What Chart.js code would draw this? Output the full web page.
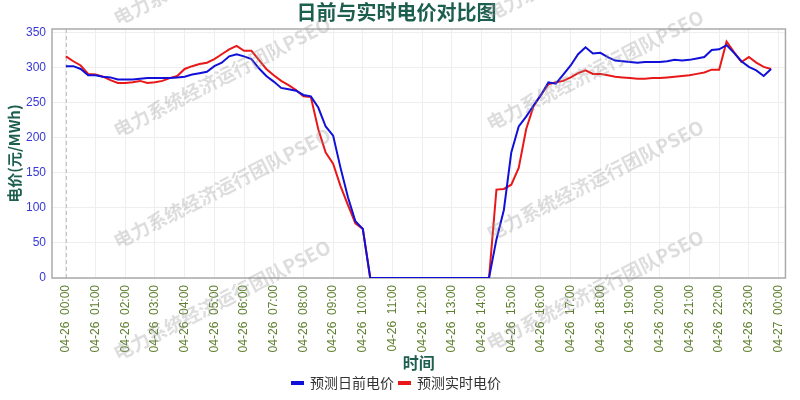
<!DOCTYPE html>
<html>
<head>
<meta charset="utf-8">
<script src="https://cdn.jsdelivr.net/npm/chart.js@4/dist/chart.umd.min.js"></script>
<style>
  html, body { margin: 0; padding: 0; background: #fff; }
  #wrap { width: 800px; height: 400px; }
</style>
</head>
<body>
<div id="wrap"><canvas id="myChart" width="800" height="400"></canvas></div>
<script>
// 15-minute points from 04-26 00:00 to 23:45
const times = [];
for (let k = 0; k < 96; k++) times.push(k / 4);

const dayAhead = [
  302, 302, 298, 289, 289, 287, 286, 283, 283, 283,
  284, 285, 285, 285, 285, 286, 287, 290, 292, 294,
  302, 307, 316, 319, 316, 312, 299, 288, 280, 271,
  269, 267, 261, 259, 243, 216, 203, 157, 115, 81, 70,
  0, 0, 0, 0, 0, 0, 0, 0, 0, 0, 0, 0, 0, 0, 0, 0, 0,
  55, 97, 179, 216, 230, 246, 261, 279, 277, 290,
  303, 319, 329, 320, 321, 315, 310, 309, 308, 307,
  308, 308, 308, 309, 311, 310, 311, 313, 315, 325,
  326, 332, 321, 309, 301, 296, 288, 298
];

const realTime = [
  316, 309, 303, 291, 290, 287, 282, 278, 278, 279,
  281, 278, 279, 281, 285, 288, 298, 302, 305, 307,
  312, 319, 326, 331, 324, 324, 311, 298, 289, 281,
  275, 268, 259, 258, 212, 179, 163, 131, 104, 78, 70,
  0, 0, 0, 0, 0, 0, 0, 0, 0, 0, 0, 0, 0, 0, 0, 0, 0,
  126, 127, 133, 157, 212, 245, 261, 276, 279, 281,
  286, 292, 296, 291, 291, 289, 287, 286, 285, 284,
  284, 285, 285, 286, 287, 288, 289, 291, 293, 297,
  297, 337, 322, 308, 315, 307, 301, 298
];

const tickLabels = [
  '04-26  00:00', '04-26  01:00', '04-26  02:00', '04-26  03:00', '04-26  04:00',
  '04-26  05:00', '04-26  06:00', '04-26  07:00', '04-26  08:00', '04-26  09:00',
  '04-26  10:00', '04-26  11:00', '04-26  12:00', '04-26  13:00', '04-26  14:00',
  '04-26  15:00', '04-26  16:00', '04-26  17:00', '04-26  18:00', '04-26  19:00',
  '04-26  20:00', '04-26  21:00', '04-26  22:00', '04-26  23:00', '04-27  00:00'
];
const yTicks = [0, 50, 100, 150, 200, 250, 300, 350];

const cjk = "'Noto Sans CJK SC', 'Noto Sans', sans-serif";
const latin = "'Liberation Sans', Arial, sans-serif";
const teal = '#1d5f4e';

// box around plot, dashed line at the first hour, and the watermark
const decor = {
  id: 'decor',
  beforeDatasetsDraw(chart) {
    const {ctx, chartArea: a, scales: {x}} = chart;
    ctx.save();
    const x0 = x.getPixelForValue(0);
    ctx.strokeStyle = '#bbbbbb';
    ctx.lineWidth = 1;
    ctx.setLineDash([4, 3]);
    ctx.beginPath();
    ctx.moveTo(x0 + 0.5, a.top);
    ctx.lineTo(x0 + 0.5, a.bottom);
    ctx.stroke();
    ctx.setLineDash([]);
    ctx.strokeStyle = '#aaaaaa';
    ctx.lineWidth = 1.5;
    ctx.strokeRect(a.left, a.top, a.right - a.left, a.bottom - a.top);
    ctx.restore();
  },
  afterDraw(chart) {
    const ctx = chart.ctx;
    const spots = [[222, -35], [222, 77], [222, 188], [222, 300],
                   [595, -40], [595, 70], [595, 180], [595, 290]];
    ctx.save();
    ctx.font = "bold 19px " + cjk;
    ctx.fillStyle = 'rgba(150,150,150,0.32)';
    ctx.textAlign = 'center';
    ctx.textBaseline = 'middle';
    spots.forEach(p => {
      ctx.save();
      ctx.translate(p[0], p[1]);
      ctx.rotate(-27 * Math.PI / 180);
      ctx.fillText('电力系统经济运行团队PSEO', 0, 0);
      ctx.restore();
    });
    ctx.restore();
  }
};

function printChart() {
  const data = {
    datasets: [{
      label: '预测日前电价',
      data: times.map((t, i) => ({x: t, y: dayAhead[i]})),
      borderColor: '#1010d8',
      backgroundColor: '#1010d8',
      borderWidth: 2,
      pointRadius: 0,
      tension: 0
    }, {
      label: '预测实时电价',
      data: times.map((t, i) => ({x: t, y: realTime[i]})),
      borderColor: '#e81818',
      backgroundColor: '#e81818',
      borderWidth: 2,
      pointRadius: 0,
      tension: 0
    }]
  };

  const config = {
    type: 'line',
    data: data,
    plugins: [decor],
    options: {
      responsive: false,
      animation: false,
      layout: {padding: {left: 0, right: 7, top: 0, bottom: 0}},
      plugins: {
        title: {
          display: true,
          text: '日前与实时电价对比图',
          color: teal,
          font: {family: cjk, size: 20, weight: 'bold', lineHeight: 1},
          padding: {top: 2, bottom: 7}
        },
        legend: {
          position: 'bottom',
          labels: {
            color: '#333333',
            font: {family: cjk, size: 14},
            boxWidth: 11,
            boxHeight: 2,
            padding: 5
          }
        },
        tooltip: {enabled: false}
      },
      scales: {
        x: {
          type: 'linear',
          min: -0.467,
          max: 24.233,
          afterBuildTicks: s => { s.ticks = tickLabels.map((_, i) => ({value: i})); },
          afterFit: s => { s.height = 93; },
          ticks: {
            color: '#5e7f2e',
            font: {family: latin, size: 12},
            minRotation: 90,
            maxRotation: 90,
            autoSkip: false,
            padding: 7,
            callback: v => tickLabels[v]
          },
          grid: {color: '#eeeeee', drawTicks: false},
          border: {display: false},
          title: {
            display: true,
            text: '时间',
            color: teal,
            font: {family: cjk, size: 16, weight: 'bold', lineHeight: 1},
            padding: {top: 0, bottom: 0}
          }
        },
        y: {
          min: 0,
          max: 355,
          afterBuildTicks: s => { s.ticks = yTicks.map(v => ({value: v})); },
          afterFit: s => { s.width = 52; },
          ticks: {
            color: '#3838d6',
            font: {family: latin, size: 12},
            padding: 6
          },
          grid: {color: '#eeeeee', drawTicks: false},
          border: {display: false},
          title: {
            display: true,
            text: '电价(元/MWh)',
            color: teal,
            font: {family: cjk, size: 15, weight: 'bold', lineHeight: 1},
            padding: {top: 7, bottom: 0}
          }
        }
      }
    }
  };

  const myChart = new Chart('myChart', config);
}

printChart();
</script>
</body>
</html>
